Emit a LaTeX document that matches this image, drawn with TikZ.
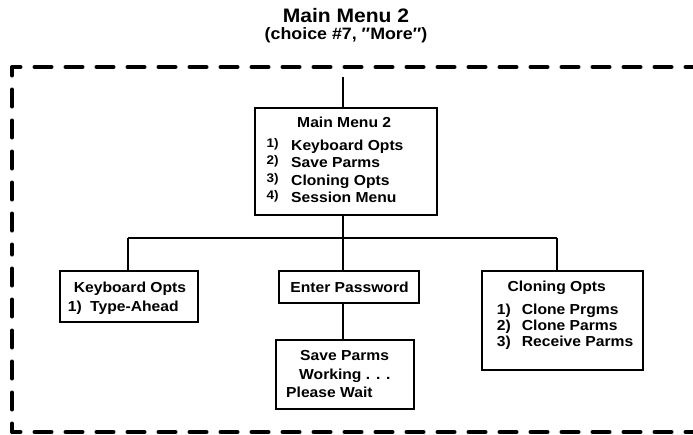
\documentclass[tikz,border=0pt]{standalone}
\usepackage{fontspec}
\newfontfamily\labelfont{Liberation Sans}[FakeStretch=1.08]
\begin{document}
\begin{tikzpicture}[x=1pt,y=-1pt,
  box/.style={draw=black,line width=2pt,fill=white,rectangle,inner sep=0pt},
  wire/.style={draw=black,line width=2pt},
  frame/.style={draw=black,line width=3.5pt,line cap=round,dash pattern=on 17.5pt off 13.5pt,dash phase=8.75pt},
  txt/.style={inner sep=0pt,font=\labelfont\bfseries\fontsize{14.5}{17}\selectfont},
  num/.style={inner sep=0pt,font=\labelfont\bfseries\fontsize{12.5}{14}\selectfont}]
\useasboundingbox (0,0) rectangle (693,434);
\clip (0,0) rectangle (693,434);

% title
\node[inner sep=0pt,anchor=base,font=\labelfont\bfseries\fontsize{19.5}{22}\selectfont] (title) at (346,22.7) {Main Menu 2};
\node[inner sep=0pt,anchor=base,font=\labelfont\bfseries\fontsize{16.5}{18}\selectfont] (subtitle) at (346,39.8) {(choice \#7, ″More″)};

% dashed frame, open on the right
\draw[frame] (12,67) -- (740,67);
\draw[frame] (12,432) -- (740,432);
\draw[frame] (12,67) -- (12,250);
\draw[frame] (12,432) -- (12,250);

% boxes
\node[box,minimum width=182pt,minimum height=107pt] (main) at (346,161.5) {};
\node[box,minimum width=138pt,minimum height=51pt] (kbd) at (129,296.5) {};
\node[box,minimum width=140pt,minimum height=32pt] (pwd) at (349,287) {};
\node[box,minimum width=138pt,minimum height=69pt] (save) at (345,374.5) {};
\node[box,minimum width=161pt,minimum height=99pt] (clone) at (562.5,320.5) {};

% connectors
\coordinate (entry) at (343,77);
\coordinate (bus) at (343,238);
\coordinate (busL) at (128,238);
\coordinate (busR) at (557,238);
\draw[wire] (entry) -- (entry |- main.north);
\draw[wire] (bus |- main.south) -- (bus);
\draw[wire] (busL) -- (busR);
\draw[wire] (busL) -- (busL |- kbd.north);
\draw[wire] (bus) -- (bus |- pwd.north);
\draw[wire] (busR) -- (busR |- clone.north);
\draw[wire] (bus |- pwd.south) -- (bus |- save.north);

% main menu text
\node[txt,anchor=base] (m0) at (344.2,127) {Main Menu 2};
\node[num,anchor=base west] (m1n) at (266.5,147) {1)};
\node[num,anchor=base west] (m2n) at (266.5,164.5) {2)};
\node[num,anchor=base west] (m3n) at (266.5,182) {3)};
\node[num,anchor=base west] (m4n) at (266.5,199) {4)};
\node[txt,anchor=base west] (m1) at (291,150) {Keyboard Opts};
\node[txt,anchor=base west] (m2) at (291,167.5) {Save Parms};
\node[txt,anchor=base west] (m3) at (291,185) {Cloning Opts};
\node[txt,anchor=base west] (m4) at (291,202) {Session Menu};

% keyboard options text
\node[txt,anchor=base] (k0) at (130,292.7) {Keyboard Opts};
\node[txt,anchor=base west] (k1n) at (67.7,311) {1)};
\node[txt,anchor=base west] (k1) at (90,311) {Type-Ahead};

% password text
\node[txt,anchor=base] (p0) at (349.5,292.3) {Enter Password};

% save parms text
\node[txt,anchor=base west] (s0) at (300,360) {Save Parms};
\node[txt,anchor=base west] (s1) at (299,379.5) {Working . . .};
\node[txt,anchor=base west] (s2) at (286,397.3) {Please Wait};

% cloning options text
\node[txt,anchor=base] (c0) at (556.7,291.7) {Cloning Opts};
\node[txt,anchor=base west] (c1n) at (496.7,314) {1)};
\node[txt,anchor=base west] (c2n) at (496.7,330) {2)};
\node[txt,anchor=base west] (c3n) at (496.7,346) {3)};
\node[txt,anchor=base west] (c1) at (521.7,314) {Clone Prgms};
\node[txt,anchor=base west] (c2) at (521.7,330) {Clone Parms};
\node[txt,anchor=base west] (c3) at (521.7,346) {Receive Parms};
\end{tikzpicture}
\end{document}
